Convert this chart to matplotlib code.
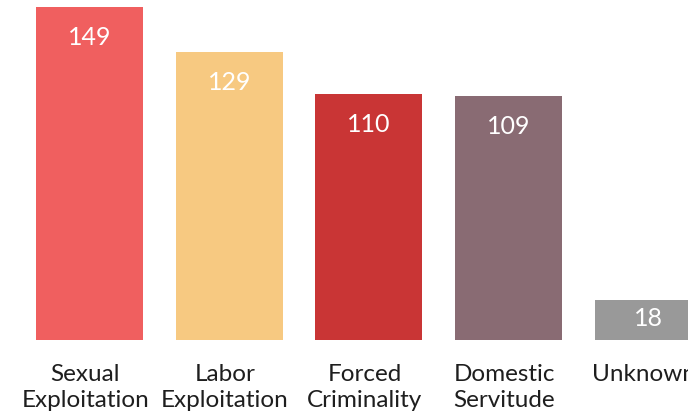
import matplotlib
matplotlib.use("Agg")
import matplotlib.pyplot as plt

categories = ["Sexual\nExploitation", "Labor\nExploitation", "Forced\nCriminality",
              "Domestic\nServitude", "Unknown"]
values = [149, 129, 110, 109, 18]
colors = ["#F05F5F", "#F7C981", "#C93535", "#896B73", "#999999"]

plt.rcParams["font.family"] = ["Lato", "DejaVu Sans"]

fig = plt.figure(figsize=(6.88, 4.19), dpi=100)
ax = fig.add_axes([0, 0, 1, 1])
ax.set_xlim(-0.6407, 4.284)
ax.set_ylim(-35.35, 152.1)
ax.axis("off")

x = list(range(len(values)))
ax.bar(x, values, width=0.766, color=colors)

for xi, v in zip(x, values):
    y = v - 13.6 if v > 40 else v / 2 + 0.7
    ax.text(xi, y, str(v), ha="center", va="center", color="white", fontsize=18)

for xi, cat in zip(x, categories):
    ax.text(xi - 0.03, -10.6, cat, ha="center", va="top", color="#1e1e1e",
            fontsize=17.5, linespacing=1.32, clip_on=False)

fig.savefig("out.png", dpi=100)
